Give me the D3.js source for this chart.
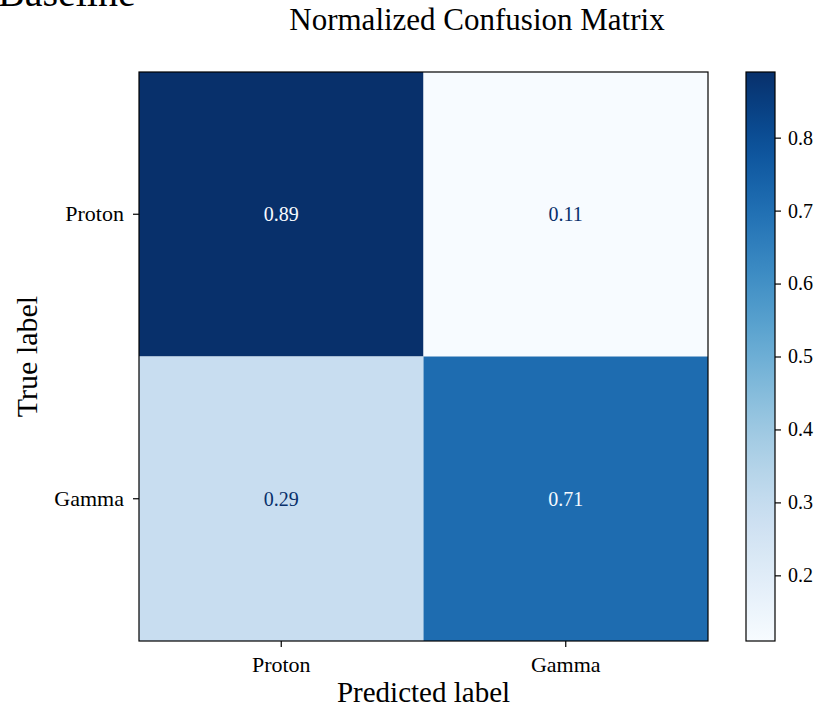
<!DOCTYPE html>
<html>
<head>
<meta charset="utf-8">
<script src="https://cdn.jsdelivr.net/npm/d3@7"></script>
<style>
  html, body { margin: 0; padding: 0; background: #fff; }
  svg { display: block; font-family: "Liberation Serif", "Times New Roman", serif; }
</style>
</head>
<body>
<svg id="chart" width="826" height="709"></svg>
<script>
const trueLabels = ["Proton", "Gamma"];
const predLabels = ["Proton", "Gamma"];
const matrixValues = [
  [0.89, 0.11],
  [0.29, 0.71]
];
const colorbarTicks = [0.2, 0.3, 0.4, 0.5, 0.6, 0.7, 0.8];
const titleText = "Normalized Confusion Matrix";
const suptitleText = "Baseline";

const svg = d3.select("#chart");
const plot = { left: 139, right: 708, top: 72, bottom: 641 };
const cb = { left: 746, right: 775, top: 72, bottom: 641 };

const flat = matrixValues.flat();
const vmin = d3.min(flat), vmax = d3.max(flat);
const color = d3.scaleSequential(d3.interpolateBlues).domain([vmin, vmax]);

const x = d3.scaleBand().domain(predLabels).range([plot.left, plot.right]);
const y = d3.scaleBand().domain(trueLabels).range([plot.top, plot.bottom]);

const cells = [];
trueLabels.forEach((t, i) => predLabels.forEach((p, j) => cells.push({ t, p, v: matrixValues[i][j] })));

svg.append("g").selectAll("rect").data(cells).join("rect")
  .attr("x", d => x(d.p)).attr("y", d => y(d.t))
  .attr("width", x.bandwidth()).attr("height", y.bandwidth())
  .attr("fill", d => color(d.v));

const thresh = (vmin + vmax) / 2;
svg.append("g").selectAll("text").data(cells).join("text")
  .attr("x", d => x(d.p) + x.bandwidth() / 2)
  .attr("y", d => y(d.t) + y.bandwidth() / 2)
  .attr("text-anchor", "middle").attr("dominant-baseline", "central")
  .attr("font-size", 20)
  .attr("fill", d => d.v < thresh ? color(vmax) : color(vmin))
  .text(d => d.v.toFixed(2));

svg.append("rect")
  .attr("x", plot.left).attr("y", plot.top)
  .attr("width", plot.right - plot.left).attr("height", plot.bottom - plot.top)
  .attr("fill", "none").attr("stroke", "#000").attr("stroke-width", 1.2);

const xAxis = svg.append("g").attr("transform", `translate(0,${plot.bottom})`)
  .call(d3.axisBottom(x).tickSize(6).tickPadding(6));
const yAxis = svg.append("g").attr("transform", `translate(${plot.left},0)`)
  .call(d3.axisLeft(y).tickSize(6).tickPadding(9));
[xAxis, yAxis].forEach(a => {
  a.select(".domain").remove();
  a.selectAll("text").attr("font-size", 22).attr("font-family", "Liberation Serif").attr("fill", "#000");
  a.selectAll("line").attr("stroke", "#000").attr("stroke-width", 1.2);
});
xAxis.selectAll("text").attr("dy", "0.85em");

// colorbar
const defs = svg.append("defs");
const grad = defs.append("linearGradient").attr("id", "cbgrad")
  .attr("x1", 0).attr("y1", 1).attr("x2", 0).attr("y2", 0);
d3.range(0, 1.0001, 0.05).forEach(f => {
  grad.append("stop").attr("offset", f).attr("stop-color", color(vmin + f * (vmax - vmin)));
});
svg.append("rect")
  .attr("x", cb.left).attr("y", cb.top)
  .attr("width", cb.right - cb.left).attr("height", cb.bottom - cb.top)
  .attr("fill", "url(#cbgrad)").attr("stroke", "#000").attr("stroke-width", 1.2);
const cbScale = d3.scaleLinear().domain([vmin, vmax]).range([cb.bottom, cb.top]);
const cbAxis = svg.append("g").attr("transform", `translate(${cb.right},0)`)
  .call(d3.axisRight(cbScale).tickValues(colorbarTicks).tickFormat(d3.format(".1f")).tickSize(6).tickPadding(7));
cbAxis.select(".domain").remove();
cbAxis.selectAll("text").attr("font-size", 20).attr("font-family", "Liberation Serif").attr("fill", "#000");
cbAxis.selectAll("line").attr("stroke", "#000").attr("stroke-width", 1.2);

// titles
svg.append("text").attr("x", 477).attr("y", 30)
  .attr("text-anchor", "middle").attr("font-size", 31).text(titleText);
svg.append("text").attr("x", (plot.left + plot.right) / 2).attr("y", 702)
  .attr("text-anchor", "middle").attr("font-size", 29).text("Predicted label");
svg.append("text").attr("transform", `translate(37,${(plot.top + plot.bottom) / 2}) rotate(-90)`)
  .attr("text-anchor", "middle").attr("font-size", 30).text("True label");
svg.append("text").attr("x", -2).attr("y", 6)
  .attr("font-size", 40).text(suptitleText);
</script>
</body>
</html>
